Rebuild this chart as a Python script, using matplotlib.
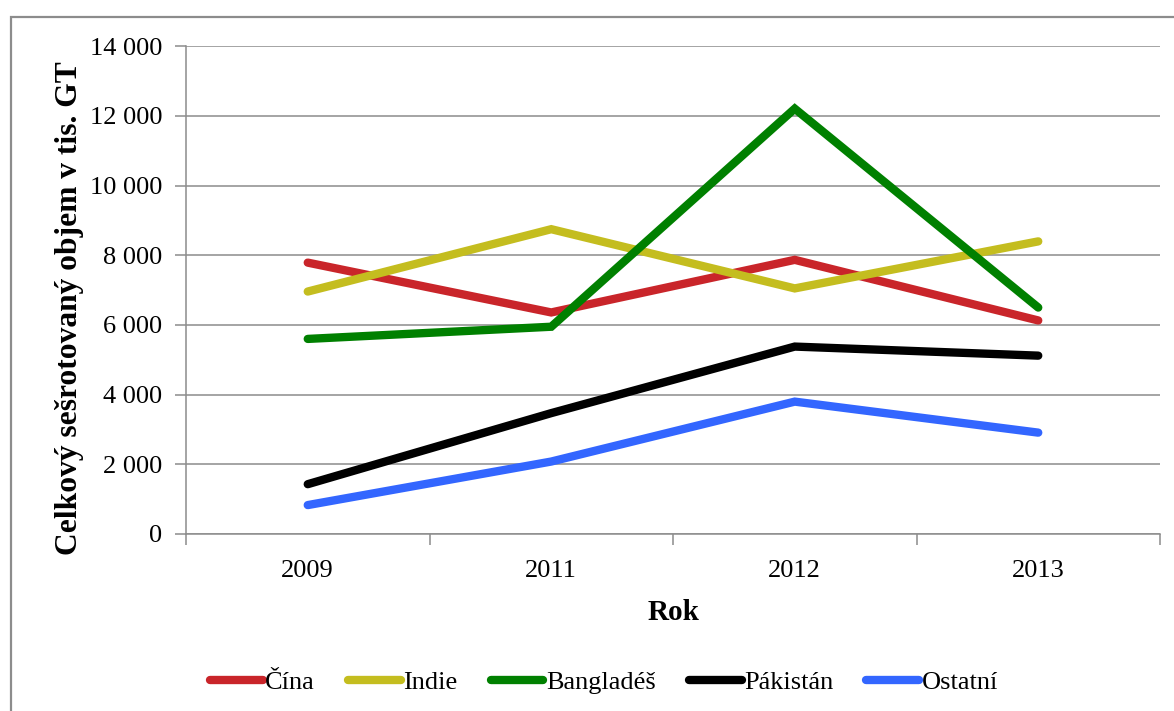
#!/usr/bin/env python3
import matplotlib
matplotlib.use('Agg')
matplotlib.rcParams['font.family'] = ['Liberation Serif', 'DejaVu Serif']
import matplotlib.pyplot as plt
from matplotlib.patches import Rectangle
from matplotlib.ticker import FuncFormatter, FixedLocator

years = ['2009', '2011', '2012', '2013']
cina       = [7790, 6360, 7870, 6130]
indie      = [6960, 8750, 7050, 8400]
bangladesh = [5600, 5950, 12210, 6500]
pakistan   = [1430, 3470, 5380, 5120]
ostatni    = [830, 2080, 3800, 2910]

series = [
    ('Čína',      cina,       '#C9252A'),
    ('Indie',     indie,      '#C4BD1F'),
    ('Bangladéš', bangladesh, '#008000'),
    ('Pákistán',  pakistan,   '#000000'),
    ('Ostatní',   ostatni,    '#3366FF'),
]

GRID = '#8C8C8C'

fig = plt.figure(figsize=(11.74, 7.11), dpi=100)
fig.patch.set_facecolor('white')

# outer chart frame (runs off the right/bottom edges)
fig.patches.append(Rectangle((11 / 1174, -0.05), 1.2, 1 - 17 / 711 + 0.05,
                             transform=fig.transFigure, fill=False,
                             ec=GRID, lw=1.6, clip_on=False))

ax = fig.add_axes([186 / 1174, 1 - 534 / 711, 974 / 1174, (534 - 46.3) / 711])

x = list(range(len(years)))
for name, vals, col in series:
    ax.plot(x, vals, color=col, lw=6, solid_capstyle='round',
            solid_joinstyle='miter', label=name, zorder=3)

# ── Axes ──────────────────────────────────────────────────────────────────────
ax.set_xlim(-0.5, len(years) - 0.5)
ax.set_ylim(0, 14000)
ax.set_yticks(range(0, 14001, 2000))
ax.yaxis.set_major_formatter(FuncFormatter(lambda v, p: f'{int(v):,}'.replace(',', ' ')))
ax.set_xticks(x)
ax.set_xticklabels(years)
ax.xaxis.set_minor_locator(FixedLocator([i - 0.5 for i in range(len(years) + 1)]))

ax.tick_params(axis='x', which='major', length=0, pad=19, labelsize=19)
ax.tick_params(axis='x', which='minor', length=8, width=1.1, color=GRID)
ax.tick_params(axis='y', length=8, width=1.1, color=GRID, pad=9, labelsize=19)

ax.grid(True, axis='y', color=GRID, lw=1.1, zorder=0)
ax.set_axisbelow(True)
for s in ['top', 'right']:
    ax.spines[s].set_visible(False)
for s in ['left', 'bottom']:
    ax.spines[s].set_color(GRID)
    ax.spines[s].set_linewidth(1.1)

ax.set_xlabel('Rok', fontsize=21, fontweight='bold', labelpad=12)
ax.set_ylabel('Celkový sešrotovaný objem v tis. GT', fontsize=22.7,
              fontweight='bold')
ax.yaxis.set_label_coords(-0.105, 0.463)

fig.legend(loc='center', bbox_to_anchor=(604 / 1174, 1 - 682 / 711), ncol=5,
           frameon=False, fontsize=19, handlelength=2.0, handletextpad=0.1,
           columnspacing=1.25)

fig.savefig('out.png', dpi=100, facecolor='white')
